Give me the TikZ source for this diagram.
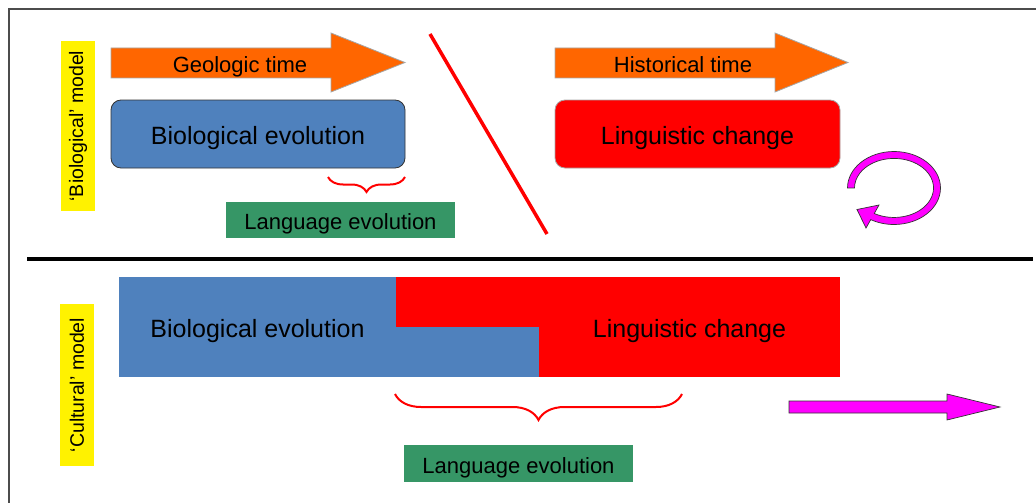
\documentclass[tikz,border=0pt]{standalone}
\usepackage{fontspec}
\setmainfont{Liberation Sans}
\usetikzlibrary{decorations.pathreplacing}
\definecolor{bioblue}{RGB}{79,129,189}
\definecolor{timeorange}{RGB}{255,102,0}
\definecolor{langgreen}{RGB}{54,150,102}
\definecolor{loopmag}{RGB}{255,0,255}
\begin{document}
\begin{tikzpicture}[x=1pt,y=-1pt,
  big/.style={font=\fontsize{25}{30}\selectfont, text height=21.5pt, text depth=0pt},
  mid/.style={font=\fontsize{22}{26}\selectfont, text height=19pt, text depth=0pt},
  tag/.style={fill=yellow, rotate=90, minimum height=34pt, inner sep=0pt,
    font=\fontsize{19.5}{23}\selectfont},
  langbox/.style={fill=langgreen, minimum width=229pt, minimum height=36pt,
    inner sep=0pt, mid},
  roundbox/.style={rounded corners=10pt, line width=0.8pt, minimum width=#1,
    minimum height=68pt, inner sep=0pt, big},
  flatbox/.style={inner sep=0pt, big},
  timearrow/.style={fill=timeorange, draw=gray!70, line width=0.8pt},
  magshape/.style={fill=loopmag, draw=black!80, line width=0.7pt},
  brc/.style={draw=red, line width=2pt, decorate,
    decoration={brace, mirror, amplitude=#1}},
]
\useasboundingbox (0,0) rectangle (1036,503);

% frame
\draw[black!70, line width=1.5pt] (9,503) -- (9,9) -- (1036,9);

% ---------- upper part: 'biological' model ----------
\node[tag, minimum width=170pt] (tagBio) at (78,126) {`Biological' model};

% time arrows
\draw[timearrow] (111,48) -- (331,48) -- (331,33) -- (405,62.5) -- (331,92)
  -- (331,78) -- (111,78) -- cycle;
\node[mid] (geo) at (240,63) {Geologic time};
\draw[timearrow] (555,48) -- (775,48) -- (775,33) -- (848,62.5) -- (775,92)
  -- (775,78) -- (555,78) -- cycle;
\node[mid] (hist) at (683,63) {Historical time};

% boxes
\node[roundbox=294pt, fill=bioblue, draw=black!80] (bioA) at (258,134)
  {Biological evolution};
\node[roundbox=285pt, fill=red, draw=black!35] (lingA) at (697.5,134)
  {Linguistic change};

% brace and language evolution label
\coordinate (brA1) at (328,177);
\coordinate (brA2) at (405,177);
\draw[brc=15pt] (brA1) -- (brA2);
\node[langbox] (langA) at (340.5,220) {Language evolution};

% dividing stroke
\coordinate (slashTop) at (430,34);
\coordinate (slashBot) at (547,234);
\draw[red, line width=3.5pt] (slashTop) -- (slashBot);

% circular arrow
\draw[magshape] (847.5,188)
  arc[start angle=180, end angle=480, x radius=46.5, y radius=36.5]
  -- (866,228) -- (857,209.5) -- (879,205) -- (874.25,213.5)
  arc[start angle=480, end angle=180, x radius=39.5, y radius=29.5]
  -- cycle;

% separator
\coordinate (sepL) at (27,259);
\coordinate (sepR) at (1033,259);
\draw[black, line width=4pt] (sepL) -- (sepR);

% ---------- lower part: 'cultural' model ----------
\node[tag, minimum width=162pt] (tagCul) at (77,385) {`Cultural' model};

\node[flatbox, fill=bioblue, minimum width=277pt, minimum height=100pt]
  (bioB) at (257.5,327) {Biological evolution};
\node[flatbox, fill=bioblue, minimum width=143pt, minimum height=50pt]
  (bioStrip) at (467.5,352) {};
\node[flatbox, fill=red, minimum width=143pt, minimum height=50pt]
  (lingStrip) at (467.5,302) {};
\node[flatbox, fill=red, minimum width=301pt, minimum height=100pt]
  (lingB) at (689.5,327) {Linguistic change};

\coordinate (brB1) at (395,394);
\coordinate (brB2) at (682,394);
\draw[brc=26pt] (brB1) -- (brB2);
\node[langbox, minimum height=37pt] (langB) at (518.5,463.5) {Language evolution};

% straight arrow
\draw[magshape] (789,401) -- (947,401) -- (947,394) -- (1000,407) -- (947,420)
  -- (947,413) -- (789,413) -- cycle;
\end{tikzpicture}
\end{document}
